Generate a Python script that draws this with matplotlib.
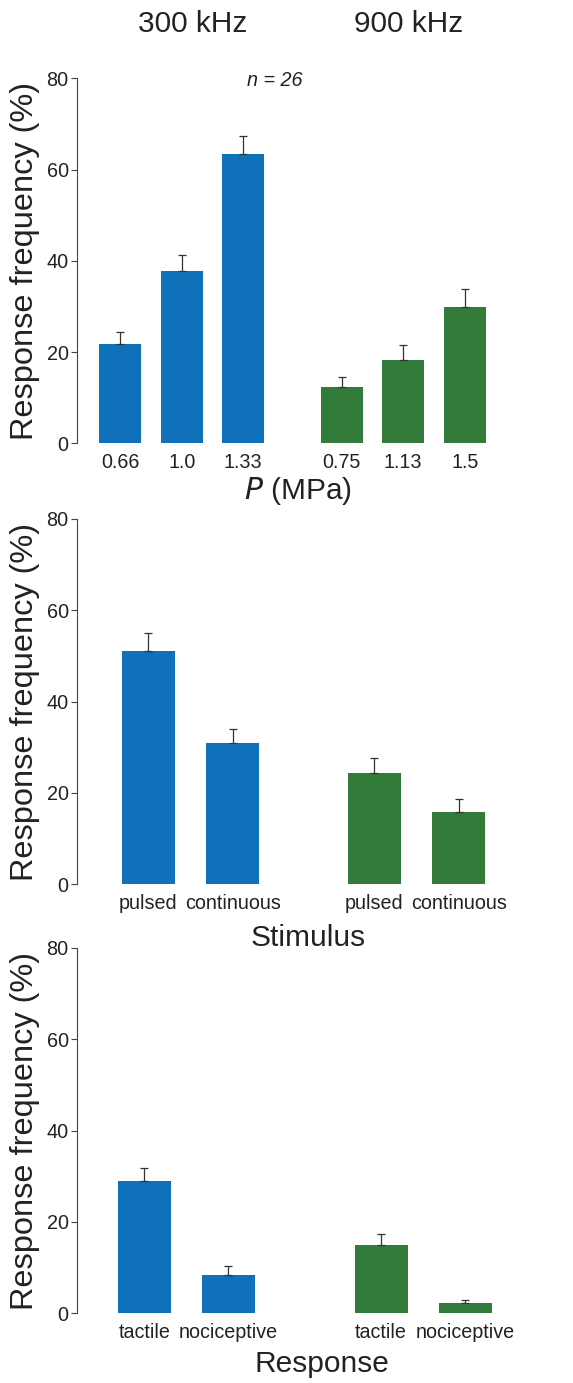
import numpy as np
import matplotlib
matplotlib.use("Agg")
import matplotlib.pyplot as plt

plt.rcParams['font.family'] = ['Liberation Sans', 'DejaVu Sans']

blue = '#0F71B9'
green = '#327B3B'

# panel 1: pressure
p_labels = ['0.66', '1.0', '1.33', '0.75', '1.13', '1.5']
p_vals = [21.8, 37.8, 63.4, 12.3, 18.3, 29.9]
p_err = [2.5, 3.5, 4.0, 2.3, 3.2, 3.9]

# panel 2: stimulus
s_labels = ['pulsed', 'continuous', 'pulsed', 'continuous']
s_vals = [51.1, 30.9, 24.3, 15.8]
s_err = [3.9, 3.2, 3.4, 2.9]

# panel 3: response
r_labels = ['tactile', 'nociceptive', 'tactile', 'nociceptive']
r_vals = [28.9, 8.4, 14.9, 2.25]
r_err = [2.8, 1.9, 2.5, 0.65]

W, H = 573, 1383
fig = plt.figure(figsize=(W / 100, H / 100), dpi=100)

def add_ax(top, bottom):
    return fig.add_axes([77 / W, 1 - bottom / H, 420 / W, (bottom - top) / H])

def draw(ax, labels, vals, err, gap, width, xlim):
    n = len(vals) // 2
    x = np.concatenate([np.arange(n) + 1, np.arange(n) + 1 + (n - 1) + gap])
    colors = [blue] * n + [green] * n
    ax.bar(x, vals, width=width, color=colors)
    ax.errorbar(x, vals, yerr=[np.zeros(len(vals)), err], fmt='none',
                ecolor='#333333', elinewidth=0.9, capsize=3, capthick=0.9)
    ax.set_xlim(*xlim)
    ax.set_ylim(0, 80)
    ax.set_yticks([0, 20, 40, 60, 80])
    ax.set_xticks(x)
    ax.set_xticklabels(labels)
    for s in ['top', 'right', 'bottom']:
        ax.spines[s].set_visible(False)
    ax.spines['left'].set_color('#444444')
    ax.spines['left'].set_linewidth(0.8)
    ax.tick_params(axis='y', labelsize=14.3, length=4, width=0.8, color='#444444',
                   labelcolor='#222222', pad=2)
    ax.tick_params(axis='x', labelsize=14.2, length=0, pad=7, labelcolor='#222222')
    ax.set_ylabel('Response frequency (%)', fontsize=23.4, color='#222222')
    ax.yaxis.set_label_coords(-0.088, 0.5)

ax1 = add_ax(78.3, 443.3)
draw(ax1, p_labels, p_vals, p_err, 1.6, 0.68, (0.296, 7.125))
ax2 = add_ax(519, 884.3)
draw(ax2, s_labels, s_vals, s_err, 1.67, 0.625, (0.16, 5.12))
ax3 = add_ax(947.7, 1313.3)
draw(ax3, r_labels, r_vals, r_err, 1.82, 0.63, (0.2, 5.2))

def ftext(px, py, s, **kw):
    fig.text(px / W, 1 - py / H, s, ha='center', va='center', color='#222222', **kw)

ftext(192.5, 24, '300 kHz', fontsize=21.5)
ftext(408.8, 24, '900 kHz', fontsize=21.5)
ftext(275, 80, 'n = 26', fontsize=14.2, style='italic')
ftext(297.5, 491, r'$\it{P}$ (MPa)', fontsize=21.5)
ftext(307.7, 938, 'Stimulus', fontsize=21.5)
ftext(322, 1364, 'Response', fontsize=21.5)

fig.savefig('out.png', dpi=100)
